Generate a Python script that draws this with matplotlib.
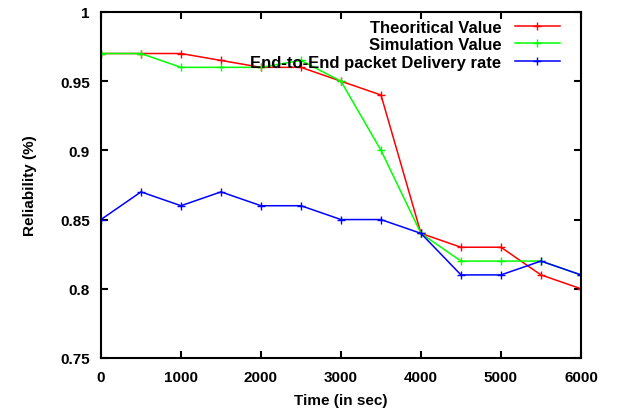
import matplotlib
matplotlib.use("Agg")
import matplotlib.pyplot as plt

# --- data ---
time_s = [0, 500, 1000, 1500, 2000, 2500, 3000, 3500, 4000, 4500, 5000, 5500, 6000]
theoretical = [0.97, 0.97, 0.97, 0.965, 0.96, 0.96, 0.95, 0.94, 0.84, 0.83, 0.83, 0.81, 0.80]
simulation = [0.97, 0.97, 0.96, 0.96, 0.96, 0.965, 0.95, 0.90, 0.84, 0.82, 0.82, 0.82, 0.81]
delivery = [0.85, 0.87, 0.86, 0.87, 0.86, 0.86, 0.85, 0.85, 0.84, 0.81, 0.81, 0.82, 0.81]

x_ticks = [0, 1000, 2000, 3000, 4000, 5000, 6000]
y_ticks = [0.75, 0.8, 0.85, 0.9, 0.95, 1.0]
y_labels = ["0.75", "0.8", "0.85", "0.9", "0.95", "1"]

plt.rcParams['font.family'] = ['Liberation Sans', 'DejaVu Sans']
plt.rcParams['font.weight'] = 'bold'

fig = plt.figure(figsize=(6.18, 4.14), dpi=100)
ax = fig.add_axes([0.1634, 0.133, 0.7767, 0.8356])

ax.plot(time_s, theoretical, color='#ff0000', lw=1.1, marker='+', ms=6, mew=1, label='Theoritical Value')
ax.plot(time_s, simulation, color='#00ff00', lw=1.1, marker='+', ms=6, mew=1, label='Simulation Value')
ax.plot(time_s, delivery, color='#0000ff', lw=1.1, marker='+', ms=6, mew=1, label='End-to-End packet Delivery rate')

ax.set_xlim(0, 6000)
ax.set_ylim(0.75, 1.0)
ax.set_xticks(x_ticks)
ax.set_xticklabels([str(t) for t in x_ticks])
ax.set_yticks(y_ticks)
ax.set_yticklabels(y_labels)
ax.tick_params(direction='in', top=True, right=True, length=5, width=1.5, labelsize=11)
ax.tick_params(axis='y', pad=8)
ax.tick_params(axis='x', pad=9)
for s in ax.spines.values():
    s.set_linewidth(1.5)

ax.set_xlabel('Time (in sec)', fontsize=11, fontweight='bold', labelpad=6)
ax.set_ylabel('Reliability (%)', fontsize=11, fontweight='bold', labelpad=17)

leg = ax.legend(loc='upper right', bbox_to_anchor=(0.956, 0.978), frameon=False,
                markerfirst=False, fontsize=12, handlelength=2.7, handletextpad=0.8,
                labelspacing=0.16, borderpad=0, borderaxespad=0)
for t in leg.get_texts():
    t.set_fontweight('bold')

fig.savefig('out.png', dpi=100)
